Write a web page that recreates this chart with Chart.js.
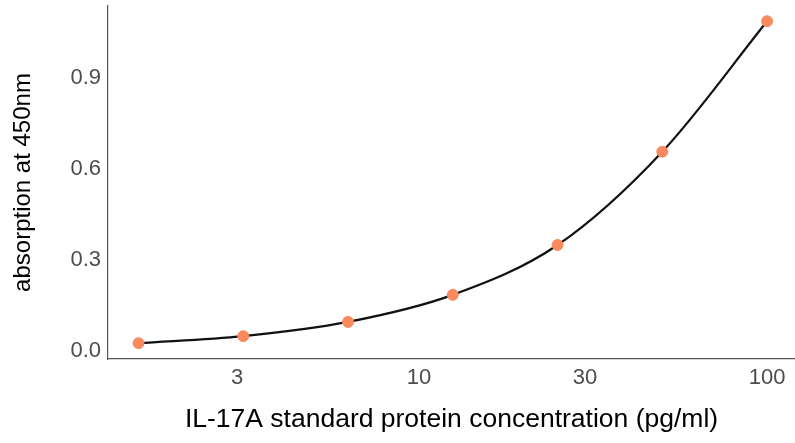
<!DOCTYPE html>
<html lang="en">
<head>
<meta charset="UTF-8">
<title>IL-17A standard curve</title>
<style>
  html, body { margin: 0; padding: 0; background: #ffffff; }
  .wrap { width: 795px; height: 443px; position: relative; }
</style>
</head>
<body>
<div class="wrap"><canvas id="curve"></canvas></div>
<script src="https://cdn.jsdelivr.net/npm/chart.js"></script>
<script>
  // standard concentrations (pg/ml) and measured absorption
  var concentrations = [1.5625, 3.125, 6.25, 12.5, 25, 50, 100];
  var absorption = [0.026, 0.049, 0.096, 0.185, 0.349, 0.656, 1.085];
  var xTicks = [3, 10, 30, 100];
  var yTicks = [0.0, 0.3, 0.6, 0.9];

  var pts = concentrations.map(function(c, i) { return { x: c, y: absorption[i] }; });

  var tickFont = { family: 'Liberation Sans, Arial, sans-serif', size: 22 };

  new Chart(document.getElementById('curve'), {
    type: 'scatter',
    data: {
      datasets: [
        {
          type: 'line',
          data: pts,
          borderColor: '#111111',
          borderWidth: 2.2,
          pointRadius: 0,
          fill: false,
          cubicInterpolationMode: 'monotone',
          order: 2
        },
        {
          data: pts,
          backgroundColor: '#f98a5e',
          borderColor: '#f98a5e',
          pointRadius: 5.5,
          order: 1
        }
      ]
    },
    options: {
      responsive: true,
      maintainAspectRatio: false,
      animation: false,
      layout: { autoPadding: false, padding: { top: 6, right: 0, left: 0, bottom: 0 } },
      plugins: { legend: { display: false }, tooltip: { enabled: false } },
      scales: {
        x: {
          type: 'logarithmic',
          min: 1.277,
          max: 120.3,
          afterBuildTicks: function(s) { s.ticks = xTicks.map(function(v) { return { value: v }; }); },
          afterFit: function(s) { s.height = 84; s.paddingLeft = 0; s.paddingRight = 0; },
          grid: { display: false, drawOnChartArea: false, tickLength: 4, color: '#555555' },
          border: { display: true, color: '#555555', width: 1.2 },
          ticks: {
            color: '#4d4d4d', font: tickFont, padding: 2, maxRotation: 0,
            callback: function(v) { return String(v); }
          },
          title: {
            display: true, text: 'IL-17A standard protein concentration (pg/ml)',
            color: '#000000', font: { family: 'Liberation Sans, Arial, sans-serif', size: 26.5 },
            padding: { top: 0, bottom: 7 }
          }
        },
        y: {
          min: -0.026,
          max: 1.135,
          afterBuildTicks: function(s) { s.ticks = yTicks.map(function(v) { return { value: v }; }); },
          afterFit: function(s) { s.width = 108; s.paddingTop = 0; s.paddingBottom = 0; },
          grid: { display: false, drawOnChartArea: false, tickLength: 4, color: '#555555' },
          border: { display: true, color: '#555555', width: 1.2 },
          ticks: {
            color: '#4d4d4d', font: tickFont, padding: 3,
            callback: function(v) { return v.toFixed(1); }
          },
          title: {
            display: true, text: 'absorption at 450nm',
            color: '#000000', font: { family: 'Liberation Sans, Arial, sans-serif', size: 24 },
            padding: { top: 9, bottom: 0 }
          }
        }
      }
    }
  });
</script>
</body>
</html>
